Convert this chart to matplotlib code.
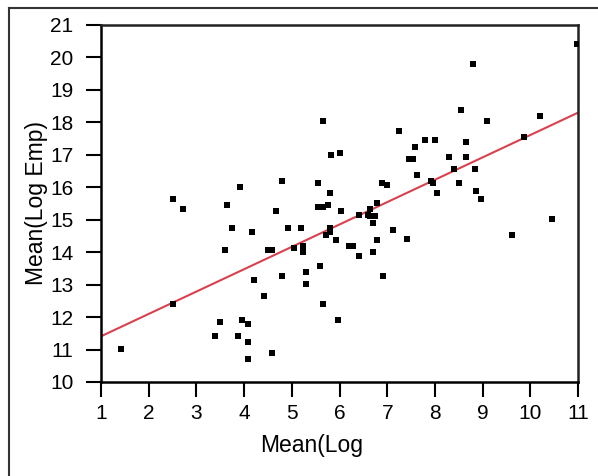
import matplotlib
matplotlib.use("Agg")
import matplotlib.pyplot as plt
from matplotlib.lines import Line2D
import numpy as np

plt.rcParams["font.family"] = ["Liberation Sans", "DejaVu Sans"]

# Mean(Log ...) vs Mean(Log Emp)
x = [1.42, 2.50, 2.71, 2.50, 3.38, 3.50, 3.59, 3.63, 3.75, 3.91,
     3.87, 3.95, 4.08, 4.08, 4.08, 4.17, 4.21, 4.42, 4.50, 4.58,
     4.58, 4.67, 4.79, 4.79, 4.92, 5.04, 5.20, 5.24, 5.24, 5.29,
     5.29, 5.54, 5.54, 5.58, 5.66, 5.66, 5.66, 5.71, 5.75, 5.79,
     5.79, 5.79, 5.83, 5.92, 5.96, 6.00, 6.04, 6.20, 6.28, 6.41,
     6.41, 6.59, 6.63, 6.63, 6.71, 6.71, 6.75, 6.79, 6.79, 6.88,
     6.92, 7.00, 7.12, 7.25, 7.42, 7.46, 7.54, 7.59, 7.63, 7.80,
     7.92, 7.96, 8.00, 8.05, 8.29, 8.41, 8.50, 8.54, 8.66, 8.66,
     8.79, 8.83, 8.87, 8.96, 9.09, 9.62, 9.87, 10.21, 10.46, 10.98]
y = [11.01, 15.64, 15.34, 12.41, 11.43, 11.86, 14.06, 15.46, 14.73, 16.01,
     11.43, 11.91, 11.80, 11.24, 10.70, 14.61, 13.15, 12.65, 14.06, 14.06,
     10.88, 15.27, 16.19, 13.27, 14.73, 14.12, 14.73, 14.18, 14.00, 13.39,
     13.02, 16.13, 15.40, 13.58, 18.03, 15.40, 12.41, 14.54, 15.46, 15.82,
     14.61, 14.73, 16.99, 14.37, 11.91, 17.05, 15.27, 14.18, 14.18, 15.16,
     13.88, 15.16, 15.34, 15.10, 14.91, 14.00, 15.10, 15.52, 14.37, 16.13,
     13.27, 16.07, 14.67, 17.72, 14.42, 16.87, 16.87, 17.24, 16.37, 17.47,
     16.19, 16.13, 17.47, 15.82, 16.93, 16.56, 16.13, 18.39, 17.41, 16.93,
     19.80, 16.56, 15.89, 15.64, 18.03, 14.54, 17.54, 18.21, 15.03, 20.41]

# fitted line (intercept, slope) as shown
fit_intercept = 10.72
fit_slope = 0.689

fig = plt.figure(figsize=(5.98, 4.76), dpi=100)
ax = fig.add_axes([0.169, 0.1975, 0.7976, 0.75])

ax.scatter(x, y, marker="s", s=13, color="black", linewidths=0, zorder=3)
xl = np.array([1, 11])
ax.plot(xl, fit_intercept + fit_slope * xl, color="#d9414e", lw=1.5, zorder=2)

ax.set_xlim(1, 11)
ax.set_ylim(10, 21)
ax.set_xticks(range(1, 12))
ax.set_yticks(range(10, 22))
ax.tick_params(direction="out", length=11, width=1.5, labelsize=15)
ax.tick_params(axis="x", pad=5)
ax.tick_params(axis="y", pad=9)
for side in ["left", "bottom"]:
    ax.spines[side].set_linewidth(1.8)
    ax.spines[side].set_color("black")
for side in ["top", "right"]:
    ax.spines[side].set_linewidth(1.8)
    ax.spines[side].set_color("#222222")

ax.set_xlabel("Mean(Log", fontsize=16.5)
ax.xaxis.set_label_coords(0.442, -0.146)
ax.set_ylabel("Mean(Log Emp)", fontsize=16.5)
ax.yaxis.set_label_coords(-0.111, 0.5)

# outer frame (clipped at right and bottom)
fig.add_artist(Line2D([8.5 / 598, 8.5 / 598], [0, 1 - 7.5 / 476],
                      color="#333333", lw=1.5))
fig.add_artist(Line2D([8.5 / 598, 1], [1 - 7.5 / 476, 1 - 7.5 / 476],
                      color="#333333", lw=1.5))

fig.savefig("out.png", dpi=100)
